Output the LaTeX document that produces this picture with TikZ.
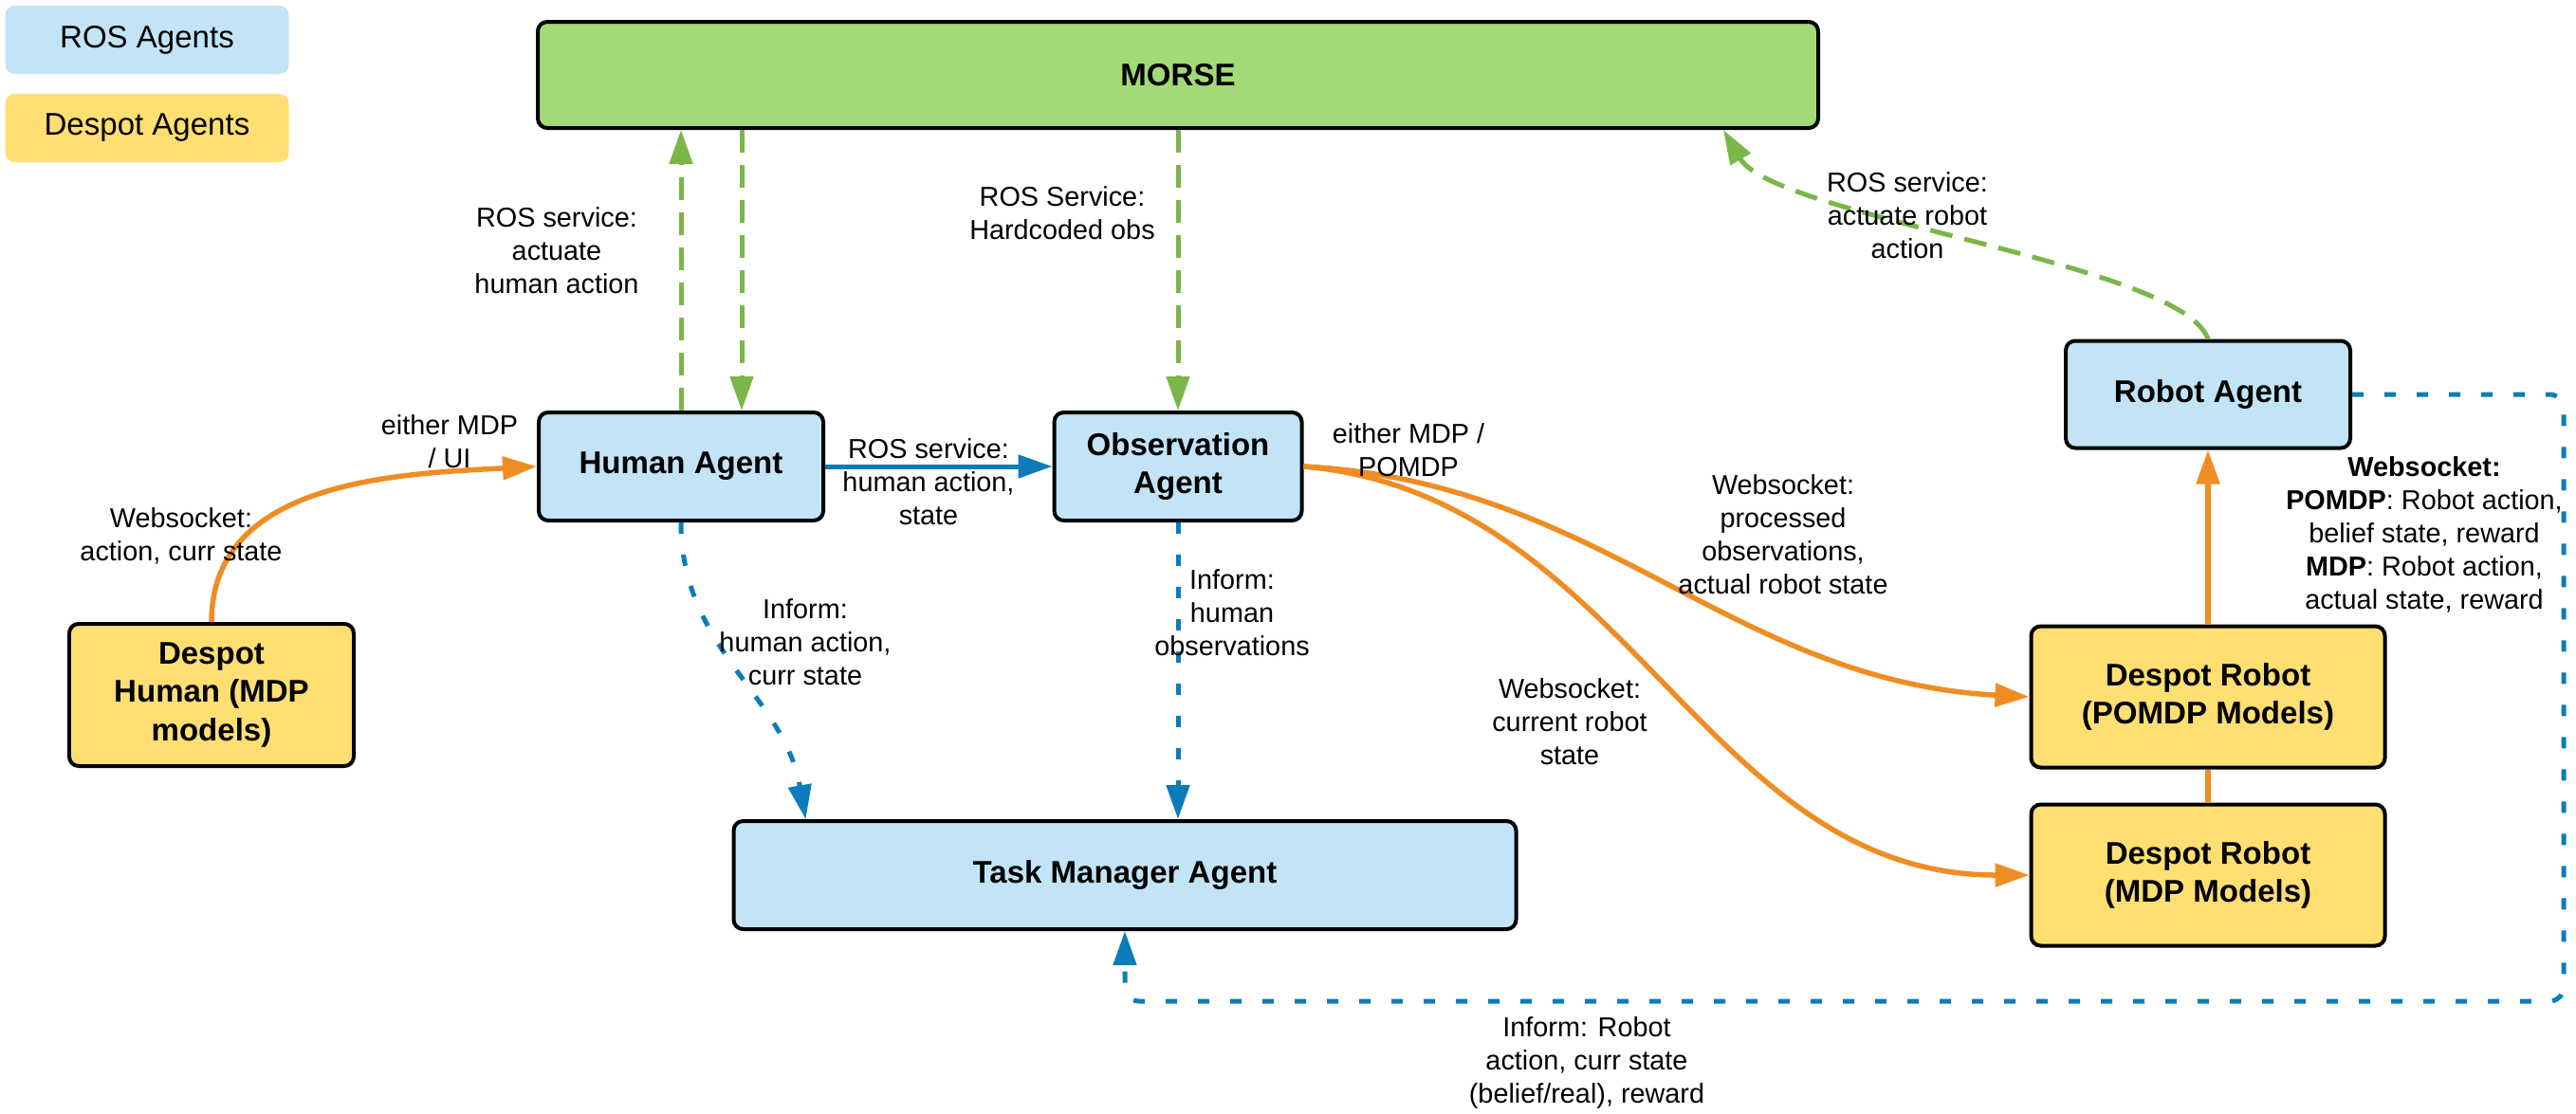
\documentclass[tikz,border=0pt]{standalone}
\usepackage{fontspec}
\setmainfont{Liberation Sans}
\usetikzlibrary{shapes,arrows,arrows.meta,positioning}

\definecolor{rosblue}{RGB}{194,228,246}
\definecolor{despyellow}{RGB}{255,223,113}
\definecolor{morsegreen}{RGB}{163,217,119}
\definecolor{srvgreen}{RGB}{122,182,72}
\definecolor{wsorange}{RGB}{239,141,34}
\definecolor{infblue}{RGB}{12,124,186}

\tikzstyle{ros_ag} = [rectangle, draw=black, line width=0.04cm, rounded corners=0.1cm, fill=rosblue, minimum width=3cm, minimum height=1.14cm, align=center, font=\fontsize{9.4}{11.5}\selectfont\bfseries]
\tikzstyle{desp_ag} = [rectangle, draw=black, line width=0.04cm, rounded corners=0.1cm, fill=despyellow, minimum width=3.73cm, minimum height=1.49cm, align=center, font=\fontsize{9.4}{11.5}\selectfont\bfseries]
\tikzstyle{sim_box} = [rectangle, draw=black, line width=0.04cm, rounded corners=0.1cm, fill=morsegreen, minimum width=13.5cm, minimum height=1.12cm, align=center, font=\fontsize{9.4}{11.5}\selectfont\bfseries]
\tikzstyle{legend_box} = [rectangle, rounded corners=0.1cm, minimum width=2.99cm, minimum height=0.72cm, font=\fontsize{9.4}{11.5}\selectfont]
\tikzstyle{lbl} = [align=center, inner sep=0pt, font=\fontsize{8.2}{9.96}\selectfont]
\tikzstyle{srv_line} = [draw=srvgreen, line width=0.05cm, dash pattern=on 0.24cm off 0.13cm, -{Triangle[length=0.36cm, width=0.24cm]}]
\tikzstyle{ws_line} = [draw=wsorange, line width=0.055cm, -{Triangle[length=0.36cm, width=0.24cm]}]
\tikzstyle{inf_line} = [draw=infblue, line width=0.05cm, -{Triangle[length=0.36cm, width=0.24cm]}]
\tikzstyle{inf_dash} = [inf_line, dash pattern=on 0.12cm off 0.22cm]

\begin{document}
\begin{tikzpicture}
\useasboundingbox (0,0) rectangle (27.16,-11.74);

\node [legend_box, fill=rosblue] (leg_ros) at (1.55,-0.42) {ROS Agents};
\node [legend_box, fill=despyellow, below of=leg_ros, node distance=0.93cm] (leg_desp) {Despot Agents};

\node [ros_ag] (human_ag) at (7.18,-4.92) {Human Agent};
\node [ros_ag, right of=human_ag, node distance=5.24cm, minimum width=2.61cm] (obs_ag) {Observation\\Agent};
\node [sim_box, above of=obs_ag, node distance=4.13cm] (morse) {MORSE};
\node [ros_ag, below of=obs_ag, node distance=4.31cm, xshift=-0.56cm, minimum width=8.25cm] (task_mgr) {Task Manager Agent};
\node [ros_ag, right of=obs_ag, node distance=10.86cm, yshift=0.76cm, minimum height=1.13cm] (robot_ag) {Robot Agent};
\node [desp_ag, below of=robot_ag, node distance=3.19cm] (desp_pomdp) {Despot Robot\\(POMDP Models)};
\node [desp_ag, below of=desp_pomdp, node distance=1.88cm] (desp_mdp) {Despot Robot\\(MDP Models)};
\node [desp_ag, left of=human_ag, node distance=4.95cm, yshift=-2.41cm, minimum width=3cm, minimum height=1.5cm] (desp_h) {Despot\\Human (MDP\\models)};

\coordinate (h_in) at ([xshift=0.64cm]human_ag.north);
\coordinate (loop_br) at (27.03,-10.56);

\path [srv_line] (human_ag.north) -- (human_ag.north |- morse.south);
\path [srv_line] (h_in |- morse.south) -- (h_in);
\path [srv_line] (morse.south -| obs_ag.north) -- (obs_ag.north);
\path [srv_line] (robot_ag.north) .. controls +(-0.28,0.80) and +(0.54,-0.92) .. ([xshift=-1.02cm]morse.south east);

\path [inf_line] (human_ag.east) -- (obs_ag.west);
\path [inf_dash] (human_ag.south) to [out=-90, in=100] ([xshift=0.78cm]task_mgr.north west);
\path [inf_dash] (obs_ag.south) -- (obs_ag.south |- task_mgr.north);
\path [inf_dash, rounded corners=0.15cm] (robot_ag.east) -| (loop_br) -| (task_mgr.south);

\path [ws_line] (desp_h.north) to [out=90, in=183] (human_ag.west);
\path [ws_line] (obs_ag.east) to [out=-3, in=177] (desp_pomdp.west);
\path [ws_line] (obs_ag.east) to [out=-5, in=180] (desp_mdp.west);
\path [ws_line] (desp_pomdp.north) -- (robot_ag.south);
\path [draw=wsorange, line width=0.055cm] (desp_mdp.north) -- (desp_pomdp.south);

\node [lbl] (l_hact) at (5.87,-2.64) {ROS service:\\actuate\\human action};
\node [lbl] (l_hobs) at (11.20,-2.25) {ROS Service:\\Hardcoded obs};
\node [lbl] (l_ract) at (20.11,-2.27) {ROS service:\\actuate robot\\action};
\node [lbl] (l_hsrv) at (9.79,-5.08) {ROS service:\\human action,\\state};
\node [lbl] (l_ui) at (4.74,-4.66) {either MDP\\/ UI};
\node [lbl] (l_wsh) at (1.91,-5.65) {Websocket:\\action, curr state};
\node [lbl] (l_infh) at (8.49,-6.77) {Inform:\\human action,\\curr state};
\node [lbl] (l_info) at (12.99,-6.46) {Inform:\\human\\observations};
\node [lbl] (l_pomdp) at (14.85,-4.75) {either MDP /\\POMDP};
\node [lbl] (l_wsproc) at (18.80,-5.64) {Websocket:\\processed\\observations,\\actual robot state};
\node [lbl] (l_wscur) at (16.55,-7.61) {Websocket:\\current robot\\state};
\node [lbl] (l_wsrob) at (25.56,-5.64) {\textbf{Websocket:}\\\textbf{POMDP}: Robot action,\\belief state, reward\\\textbf{MDP}: Robot action,\\actual state, reward};
\node [lbl] (l_infr) at (16.73,-11.21) {Inform: Robot\\action, curr state\\(belief/real), reward};

\end{tikzpicture}
\end{document}
